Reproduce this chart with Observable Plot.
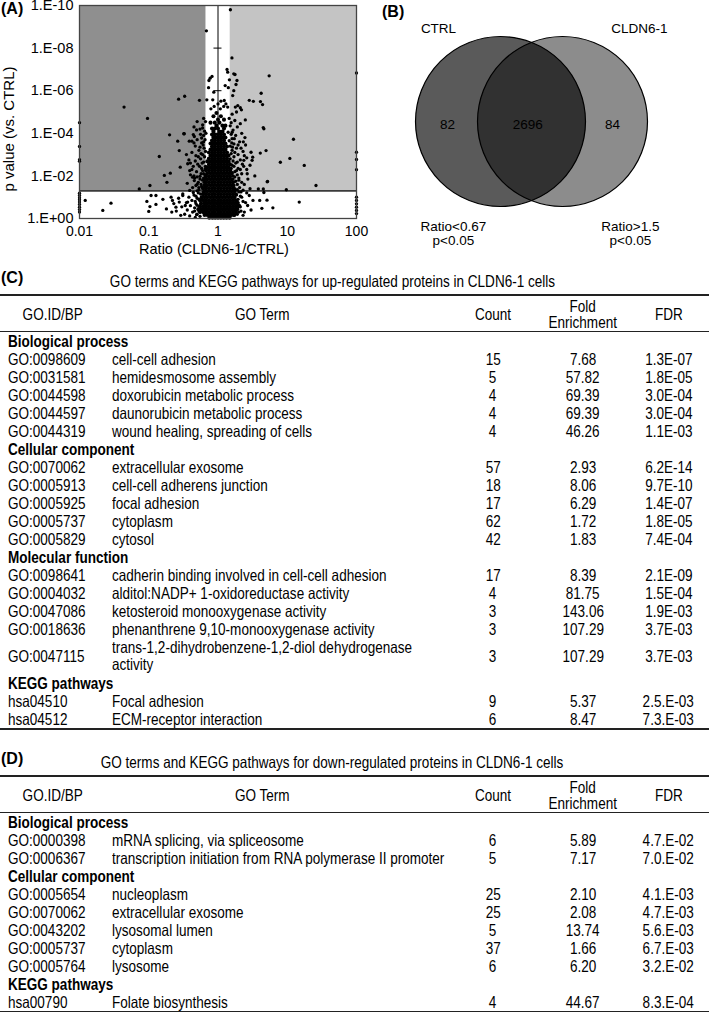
<!DOCTYPE html>
<html><head><meta charset="utf-8">
<script src="https://cdn.jsdelivr.net/npm/d3@7"></script>
<script src="https://cdn.jsdelivr.net/npm/@observablehq/plot@0.6"></script>
<style>
html,body{margin:0;padding:0;background:#fff;}
#page{position:relative;width:709px;height:1012px;overflow:hidden;background:#fff;font-family:"Liberation Sans",Arial,sans-serif;color:#000;}
.abs{position:absolute;}
.plab{position:absolute;font-weight:bold;font-size:16px;line-height:16px;font-family:"Liberation Sans",Arial,sans-serif;}
.ttl{position:absolute;left:0;width:664px;height:18px;line-height:18px;text-align:center;font-size:16.5px;white-space:nowrap;}
table.go{position:absolute;left:0;width:709px;border-collapse:collapse;table-layout:fixed;border-top:2px solid #222;border-bottom:2px solid #222;font-size:16.5px;}
table.go th{font-weight:normal;height:35px;padding:0;border-bottom:1px solid #222;text-align:center;line-height:16px;vertical-align:middle;}
table.go td{height:18px;padding:0;line-height:18px;white-space:nowrap;vertical-align:middle;}
table.go td.id{padding-left:8px;text-align:left;}
table.go td.term{padding-left:7px;text-align:left;overflow:visible;}
table.go td.num{text-align:center;}
table.go tr.sec td{font-weight:bold;padding-left:8px;}
table.go tr.two td{height:36px;}
table.go tr.two td.term{line-height:17px;}
table.go th.termh{padding-right:28px;}
.sx{display:inline-block;transform:scaleX(0.82);transform-origin:left center;}
.num .sx, th .sx, .ttl .sx{transform-origin:center center;}
</style></head><body><div id="page"></div>
<script>
// ---------- Panel A data: ratio (CLDN6-1/CTRL) and -log10(p) ----------
const xTicks = [0.01, 0.1, 1, 10, 100];
const xTickLabels = ["0.01", "0.1", "1", "10", "100"];
const yTicks = [0, 2, 4, 6, 8, 10];
const yTickLabels = ["1.E+00", "1.E-02", "1.E-04", "1.E-06", "1.E-08", "1.E-10"];
const ratioDown = 0.67, ratioUp = 1.5, pCut = 0.05;

const outlierPts = [
 [1.51,9.8],[0.68,8.81],[1.59,7.54],[0.82,6.67],[0.77,6.59],[0.74,6.48],
 [1.35,7.0],[1.38,6.87],[1.69,6.79],[1.76,6.76],[1.88,6.48],[1.82,6.29],[1.46,6.51],[1.27,6.24],[1.41,6.14],[1.69,6.0],[1.63,5.77],
 [0.73,6.14],[0.87,5.93],[0.84,5.57],[1.23,5.54],[1.3,5.38],[1.38,5.23],[1.21,5.26],
 [0.69,5.57],[0.54,5.55],[0.33,5.74],[0.27,5.6],[5.48,6.7],[100,6.83],
 [0.044,5.23],[0.096,4.7],[0.01,4.5],
 [2.83,5.55],[3.24,5.5],[4.1,5.49],[4.2,5.88],[4.4,5.35],[4.5,4.27],[4.6,4.21],[12.3,3.72],
 [1.93,5.3],[2.1,5.2],[2.18,5.1],[1.78,5.23],[1.0,5.38],[1.1,5.51],[0.88,5.26],[0.79,5.15],[1.08,5.15],
 [2.48,4.63],[2.32,3.6],[4.94,3.19],[4.08,3.07],[3.0,3.11],[3.17,2.88],
 [7.95,2.64],[10.9,2.82],[17.6,2.49],[26,1.55],[9.7,1.35],[14.9,0.77],[4.0,0.85],[4.3,0.48],[5.2,1.74],[3.82,1.39],[4.51,1.39],
 [100,3.11],[100,2.77],[100,2.29],[100,0.69],[100,0.53],[100,0.38],[100,1.0],[100,0.23],[100,0.85],
 [0.2,3.93],[0.262,3.63],[0.326,3.98],[0.385,3.63],[0.42,3.63],[0.455,3.85],[0.276,3.19],[0.142,2.91],[0.285,2.41],
 [0.168,2.02],[0.205,2.13],[0.183,1.7],[0.104,1.55],[0.073,1.39],
 [0.01,3.38],[0.01,2.76],[0.01,2.69],
 [0.01,1.19],[0.01,1.08],[0.01,0.97],[0.01,0.88],[0.01,0.77],[0.01,0.66],[0.01,0.53],[0.01,0.42],[0.01,0.3],
 [0.0121,0.85],[0.0285,0.72],[0.0217,0.38],[0.094,0.8],[0.108,1.08],[0.127,1.08],[0.104,0.56],[0.127,0.66],[0.1,0.33],
 [0.21,1.0],[0.22,0.85],[0.215,0.3],[0.247,0.53],[0.276,0.77],
 [0.32,3.98],[0.44,3.94],[0.49,4.16],[0.365,2.57],[0.39,2.25],[0.43,1.94],[0.455,1.78],[0.31,1.08],[0.337,0.61],[0.365,0.77],
 [2.36,2.73],[3.11,2.73],[5.13,1.72],[2.64,2.1],[2.0,1.8],[4.6,1.22]
];
const leftFringe = [
 [0.6,4.4],[0.55,4.2],[0.62,3.9],[0.5,3.7],[0.58,3.55],[0.47,3.4],[0.63,3.3],[0.53,3.2],[0.42,3.1],[0.6,3.0],
 [0.48,2.95],[0.56,2.8],[0.38,2.75],[0.62,2.65],[0.51,2.55],[0.44,2.45],[0.58,2.35],[0.49,2.2],[0.62,2.1],[0.4,2.05],
 [0.55,1.98],[0.46,1.9],[0.6,1.8],[0.52,1.7],[0.36,1.65],[0.57,1.6],[0.48,1.55],[0.43,1.45],[0.6,1.42],[0.53,1.35],
 [0.39,1.32],[0.62,4.7],[0.5,4.55],[0.45,4.3],[0.64,4.1],[0.58,3.78],[0.35,3.0],[0.66,2.45],[0.4,2.6],[0.45,3.55],
 [0.66,4.55],[0.6,4.25],[0.67,4.0],[0.56,3.95],[0.65,3.7],[0.61,3.45],[0.66,3.15],[0.57,3.05],[0.64,2.9],[0.59,2.6],
 [0.66,2.35],[0.54,2.45],[0.6,2.25],[0.65,2.05],[0.57,2.1],[0.62,1.9],[0.55,1.85],[0.63,1.7],[0.5,1.6],[0.58,1.5],
 [0.66,1.55],[0.53,1.45],[0.61,1.25],[0.5,1.3],[0.56,1.15],[0.48,1.05],[0.53,0.9],[0.47,0.8],[0.5,0.62],[0.46,0.35],
 [0.49,0.18],[0.55,0.1],[0.58,0.9],[0.62,3.6],[0.55,3.35],[0.52,2.9],[0.47,2.7],[0.42,2.3],[0.45,2.0],[0.5,1.95]
];
const rightFringe = [
 [1.6,4.9],[1.75,4.6],[1.55,4.5],[1.9,4.3],[1.65,4.15],[2.2,4.0],[1.8,3.9],[1.6,3.75],[2.05,3.6],[1.7,3.5],
 [2.5,3.45],[1.85,3.3],[1.6,3.2],[2.3,3.15],[1.95,3.0],[1.7,2.9],[2.6,2.85],[2.1,2.75],[1.8,2.6],[1.6,2.5],
 [2.35,2.45],[1.95,2.35],[1.75,2.2],[2.2,2.1],[1.65,2.0],[2.0,1.9],[2.7,1.85],[1.8,1.75],[2.4,1.6],[1.7,1.55],
 [2.05,1.45],[2.9,1.4],[1.9,1.35],[2.3,1.33],[2.6,2.3],[2.45,3.8],[2.1,4.45],[1.85,5.0],[2.9,2.5],[3.4,2.0],
 [1.45,4.7],[1.5,4.35],[1.4,4.05],[1.55,3.95],[1.45,3.65],[1.5,3.4],[1.62,3.35],[1.55,3.05],[1.75,3.1],[1.5,2.8],
 [1.65,2.7],[1.9,2.65],[1.55,2.35],[1.7,2.45],[1.85,2.25],[1.6,2.15],[1.9,2.05],[1.75,1.95],[1.65,1.85],[2.2,1.7],
 [1.9,1.6],[1.75,1.4],[2.0,1.25],[1.85,1.1],[2.1,1.05],[1.95,0.75],[2.05,0.6],[1.8,0.4],[2.15,0.35],[1.7,0.15],
 [1.9,0.2],[2.3,0.8],[1.6,4.05],[1.72,3.75],[1.58,3.55],[1.95,3.45],[2.15,3.3],[2.4,2.95],[2.25,2.55],[2.1,2.3]
];
const lowLeft = [
 [0.52,1.2],[0.45,1.1],[0.5,0.95],[0.38,1.0],[0.42,0.85],[0.48,0.7],[0.35,0.75],[0.4,0.6],[0.46,0.5],[0.3,0.55],
 [0.36,0.4],[0.43,0.3],[0.33,0.2],[0.5,0.2],[0.27,0.95],[0.25,0.35],[0.29,0.15],[0.39,0.12],[0.47,0.05],[0.31,1.15],
 [0.23,0.7],[0.18,0.45],[0.16,0.9],[0.53,0.35],[0.44,1.22]
];
const lowRight = [
 [2.83,1.08],[3.2,0.85],[2.68,0.61],[2.4,0.3],[2.2,1.0],[2.5,0.75],[2.1,0.55],[2.3,0.15],[2.0,0.3],[2.6,1.2],
 [1.95,0.9],[2.15,1.25],[3.0,0.4],[5.1,0.86],[6.2,0.5]
];
// dense core: [-log10 p, ratios in that row]
const coreRows = [
 [0.04,[0.75,0.83,0.91,1.0,1.1,1.21,1.33,1.47]],
 [0.17,[0.64,0.7,0.78,0.86,0.95,1.05,1.16,1.28,1.41,1.56,1.72]],
 [0.3,[0.55,0.61,0.67,0.74,0.82,0.9,1.0,1.1,1.22,1.35,1.49,1.65,1.82]],
 [0.44,[0.52,0.58,0.64,0.7,0.78,0.86,0.95,1.05,1.16,1.28,1.42,1.57,1.73,1.9]],
 [0.58,[0.55,0.61,0.67,0.74,0.82,0.9,1.0,1.1,1.22,1.35,1.49,1.65,1.82,2.0]],
 [0.72,[0.57,0.64,0.7,0.78,0.86,0.95,1.05,1.16,1.28,1.42,1.57,1.73,1.91]],
 [0.86,[0.55,0.61,0.67,0.74,0.82,0.9,1.0,1.1,1.22,1.35,1.49,1.65,1.82]],
 [1.0,[0.58,0.64,0.7,0.78,0.86,0.95,1.05,1.16,1.28,1.42,1.57,1.73]],
 [1.14,[0.61,0.67,0.74,0.82,0.9,1.0,1.1,1.22,1.35,1.49,1.65,1.82]],
 [1.28,[0.64,0.7,0.78,0.86,0.95,1.05,1.16,1.28,1.42,1.57,1.73]],
 [1.42,[0.61,0.67,0.74,0.82,0.9,1.0,1.1,1.22,1.35,1.49,1.65]],
 [1.56,[0.64,0.7,0.78,0.86,0.95,1.05,1.16,1.28,1.42,1.57]],
 [1.7,[0.67,0.74,0.82,0.9,1.0,1.1,1.22,1.35,1.49,1.65]],
 [1.84,[0.64,0.7,0.78,0.86,0.95,1.05,1.16,1.28,1.42,1.57]],
 [1.98,[0.67,0.74,0.82,0.9,1.0,1.1,1.22,1.35,1.49]],
 [2.12,[0.7,0.78,0.86,0.95,1.05,1.16,1.28,1.42,1.57]],
 [2.26,[0.67,0.74,0.82,0.9,1.0,1.1,1.22,1.35,1.49]],
 [2.4,[0.7,0.78,0.86,0.95,1.05,1.16,1.28,1.42]],
 [2.54,[0.74,0.82,0.9,1.0,1.1,1.22,1.35,1.49]],
 [2.68,[0.7,0.78,0.86,0.95,1.05,1.16,1.28,1.42]],
 [2.82,[0.74,0.82,0.9,1.0,1.1,1.22,1.35]],
 [2.96,[0.78,0.86,0.95,1.05,1.16,1.28,1.42]],
 [3.1,[0.74,0.82,0.9,1.0,1.1,1.22,1.35]],
 [3.24,[0.78,0.86,0.95,1.05,1.16,1.28]],
 [3.38,[0.82,0.9,1.0,1.1,1.22,1.35]],
 [3.52,[0.78,0.86,0.95,1.05,1.16,1.28]],
 [3.66,[0.82,0.9,1.0,1.1,1.22]],
 [3.8,[0.86,0.95,1.05,1.16,1.28]],
 [3.94,[0.82,0.9,1.0,1.1,1.22]],
 [4.08,[0.86,1.05,1.16]],
 [4.22,[0.82,0.9,1.0,1.22]],
 [4.36,[0.95,1.16,1.28]],
 [4.5,[0.78,0.9,1.05]],
 [4.64,[1.0,1.22]],
 [4.8,[0.86,1.1]],
 [4.95,[0.95]]
];

// ---------- Panel B data ----------
const vennSets = ["CTRL", "CLDN6-1"];
const vennCounts = [82, 2696, 84]; // CTRL only, shared, CLDN6-1 only
const vennCriteria = ["Ratio<0.67\np<0.05", "Ratio>1.5\np<0.05"];

// ---------- Panel C data ----------
const groupNames = ["Biological process", "Cellular component", "Molecular function", "KEGG pathways"];
const upTitle = "GO terms and KEGG pathways for up-regulated proteins in CLDN6-1 cells";
const upGroup = [0,0,0,0,0,1,1,1,1,1,2,2,2,2,2,3,3];
const upIds = ["GO:0098609","GO:0031581","GO:0044598","GO:0044597","GO:0044319","GO:0070062","GO:0005913","GO:0005925","GO:0005737","GO:0005829","GO:0098641","GO:0004032","GO:0047086","GO:0018636","GO:0047115","hsa04510","hsa04512"];
const upTerms = ["cell-cell adhesion","hemidesmosome assembly","doxorubicin metabolic process","daunorubicin metabolic process","wound healing, spreading of cells","extracellular exosome","cell-cell adherens junction","focal adhesion","cytoplasm","cytosol","cadherin binding involved in cell-cell adhesion","alditol:NADP+ 1-oxidoreductase activity","ketosteroid monooxygenase activity","phenanthrene 9,10-monooxygenase activity","trans-1,2-dihydrobenzene-1,2-diol dehydrogenase\nactivity","Focal adhesion","ECM-receptor interaction"];
const upCounts = [15,5,4,4,4,57,18,17,62,42,17,4,3,3,3,9,6];
const upFold = ["7.68","57.82","69.39","69.39","46.26","2.93","8.06","6.29","1.72","1.83","8.39","81.75","143.06","107.29","107.29","5.37","8.47"];
const upFdr = ["1.3E-07","1.8E-05","3.0E-04","3.0E-04","1.1E-03","6.2E-14","9.7E-10","1.4E-07","1.8E-05","7.4E-04","2.1E-09","1.5E-04","1.9E-03","3.7E-03","3.7E-03","2.5.E-03","7.3.E-03"];

// ---------- Panel D data ----------
const downTitle = "GO terms and KEGG pathways for down-regulated proteins in CLDN6-1 cells";
const downGroup = [0,0,1,1,1,1,1,3];
const downIds = ["GO:0000398","GO:0006367","GO:0005654","GO:0070062","GO:0043202","GO:0005737","GO:0005764","hsa00790"];
const downTerms = ["mRNA splicing, via spliceosome","transcription initiation from RNA polymerase II promoter","nucleoplasm","extracellular exosome","lysosomal lumen","cytoplasm","lysosome","Folate biosynthesis"];
const downCounts = [6,5,25,25,5,37,6,4];
const downFold = ["5.89","7.17","2.10","2.08","13.74","1.66","6.20","44.67"];
const downFdr = ["4.7.E-02","7.0.E-02","4.1.E-03","4.7.E-03","5.6.E-03","6.7.E-03","3.2.E-02","8.3.E-04"];
const headers = ["GO.ID/BP", "GO Term", "Count", "Fold\nEnrichment", "FDR"];

// ================= rendering =================
const page = document.getElementById("page");
const FONT = '"Liberation Sans", Arial, sans-serif';

function hasFont(name) {
  const c = document.createElement("canvas").getContext("2d");
  const s = "GO:0098609 cadherin binding WMwm";
  c.font = "40px monospace"; const a = c.measureText(s).width;
  c.font = `40px "${name}", monospace`; const b = c.measureText(s).width;
  return Math.abs(a - b) > 0.5;
}
const narrow = ["Liberation Sans Narrow", "Arial Narrow"].find(hasFont);
const tableFont = narrow ? `"${narrow}", ${FONT}` : FONT;
const wrapT = s => {
  const h = s.split("\n").map(t => t.replace(/&/g,"&amp;").replace(/</g,"&lt;")).join("<br>");
  return narrow ? h : `<span class="sx">${h}</span>`;
};

// Panel A
const pLcut = -Math.log10(pCut);
const corePts = coreRows.flatMap(([L, rs]) => rs.map(r => [r, L]));
const scatterPts = [...leftFringe, ...rightFringe, ...lowLeft, ...lowRight, ...outlierPts];
const plotA = Plot.plot({
  width: 372, height: 262,
  marginLeft: 79, marginRight: 16, marginTop: 5, marginBottom: 44,
  style: {fontFamily: FONT, fontSize: "14px", color: "#000", background: "transparent", overflow: "visible", maxWidth: "none"},
  x: {type: "log", domain: [0.01, 100]},
  y: {domain: [0, 10]},
  marks: [
    Plot.rect([[0.01, ratioDown]], {x1: d => d[0], x2: d => d[1], y1: () => pLcut, y2: () => 10, fill: "#8f8f8f"}),
    Plot.rect([[ratioUp, 100]], {x1: d => d[0], x2: d => d[1], y1: () => pLcut, y2: () => 10, fill: "#c4c4c4"}),
    Plot.ruleY([pLcut], {stroke: "#3a3a3a", strokeWidth: 1.8}),
    Plot.ruleX([1], {stroke: "#000", strokeWidth: 1}),
    Plot.ruleY(yTicks.slice(1, -1), {x1: () => 0.875, x2: () => 1.142, stroke: "#000", strokeWidth: 1}),
    Plot.dot(corePts, {x: d => d[0], y: d => d[1], r: 2.05, fill: "#000", stroke: null}),
    Plot.dot(scatterPts, {x: d => d[0], y: d => d[1], r: 1.65, fill: "#000", stroke: null}),
    Plot.frame({stroke: "#444", strokeWidth: 1.3}),
    Plot.axisX(xTicks, {tickSize: 0, tickPadding: 8, tickFormat: d => xTickLabels[xTicks.indexOf(d)], label: null, fontSize: 14}),
    Plot.axisY(yTicks, {tickSize: 0, tickPadding: 6, tickFormat: d => yTickLabels[yTicks.indexOf(d)], label: null, fontSize: 14.5}),
    Plot.text(["Ratio (CLDN6-1/CTRL)"], {frameAnchor: "bottom", textAnchor: "middle", lineAnchor: "middle", dx: -4, dy: 31, fontSize: 14.5}),
    Plot.text(["p value (vs. CTRL)"], {frameAnchor: "left", textAnchor: "middle", lineAnchor: "middle", dx: -70, dy: 17, rotate: -90, fontSize: 15})
  ]
});

// Panel B (Venn): layout units = half the distance between circle centres
const vx = [-1, 1], regionX = [-2.71, -0.12, 2.61], setLabelX = [-3.0, 3.48], critX = [-2.52, 3.19];
const plotB = Plot.plot({
  width: 349, height: 260, margin: 0,
  style: {fontFamily: FONT, fontSize: "13.5px", color: "#000", background: "transparent", overflow: "visible", maxWidth: "none"},
  x: {domain: [-171/31, 178/31], axis: null},
  y: {domain: [-121/31, 139/31], range: [0, 260], axis: null},
  marks: [
    Plot.dot([vennSets[0]], {x: () => vx[0], y: () => 0, r: 85, fill: "#5a5a5a", stroke: "#000", strokeWidth: 1.2}),
    Plot.dot([vennSets[1]], {x: () => vx[1], y: () => 0, r: 85, fill: "#000", fillOpacity: 0.45, stroke: "#000", strokeWidth: 1.2}),
    Plot.text(vennCounts, {x: (d, i) => regionX[i], y: () => 0.1, text: d => String(d), fontSize: 13.5, fill: "#000"}),
    Plot.text(vennSets, {x: (d, i) => setLabelX[i], y: () => -3.0, text: d => d, fontSize: 13.5}),
    Plot.text(vennCriteria, {x: (d, i) => critX[i], y: () => 3.6, text: d => d, fontSize: 13.5, lineHeight: 1.05})
  ]
});

function place(el, left, top, w) {
  const d = document.createElement("div");
  d.className = "abs"; d.style.left = left + "px"; d.style.top = top + "px";
  if (w) d.style.width = w + "px";
  d.appendChild(el); page.appendChild(d); return d;
}
place(plotB, 360, 0, 349);
place(plotA, 0, 0, 372);

function label(txt, left, top) {
  const d = document.createElement("div");
  d.className = "plab"; d.textContent = txt;
  d.style.left = left + "px"; d.style.top = top + "px";
  page.appendChild(d);
}
label("(A)", 1, 1);
label("(B)", 382, 4);

function buildTable(title, group, ids, terms, counts, fold, fdr, top, labelTxt) {
  label(labelTxt, 1, top - 24);
  const t = document.createElement("div");
  t.className = "ttl"; t.style.top = (top - 22) + "px"; t.style.fontFamily = tableFont;
  t.innerHTML = wrapT(title);
  page.appendChild(t);
  let html = `<colgroup><col style="width:105px"><col style="width:343px"><col style="width:90px"><col style="width:90px"><col style="width:81px"></colgroup>`;
  html += `<thead><tr>` + headers.map((h, i) => `<th${i === 1 ? ' class="termh"' : ''}>${wrapT(h)}</th>`).join("") + `</tr></thead><tbody>`;
  let last = -1;
  ids.forEach((id, i) => {
    if (group[i] !== last) { html += `<tr class="sec"><td colspan="5">${wrapT(groupNames[group[i]])}</td></tr>`; last = group[i]; }
    const two = terms[i].includes("\n");
    html += `<tr${two ? ' class="two"' : ''}><td class="id">${wrapT(id)}</td><td class="term">${wrapT(terms[i])}</td><td class="num">${wrapT(String(counts[i]))}</td><td class="num">${wrapT(fold[i])}</td><td class="num">${wrapT(fdr[i])}</td></tr>`;
  });
  html += `</tbody>`;
  const tb = document.createElement("table");
  tb.className = "go"; tb.style.top = top + "px"; tb.style.fontFamily = tableFont;
  tb.innerHTML = html;
  page.appendChild(tb);
}
buildTable(upTitle, upGroup, upIds, upTerms, upCounts, upFold, upFdr, 294, "(C)");
buildTable(downTitle, downGroup, downIds, downTerms, downCounts, downFold, downFdr, 775, "(D)");
</script></body></html>
